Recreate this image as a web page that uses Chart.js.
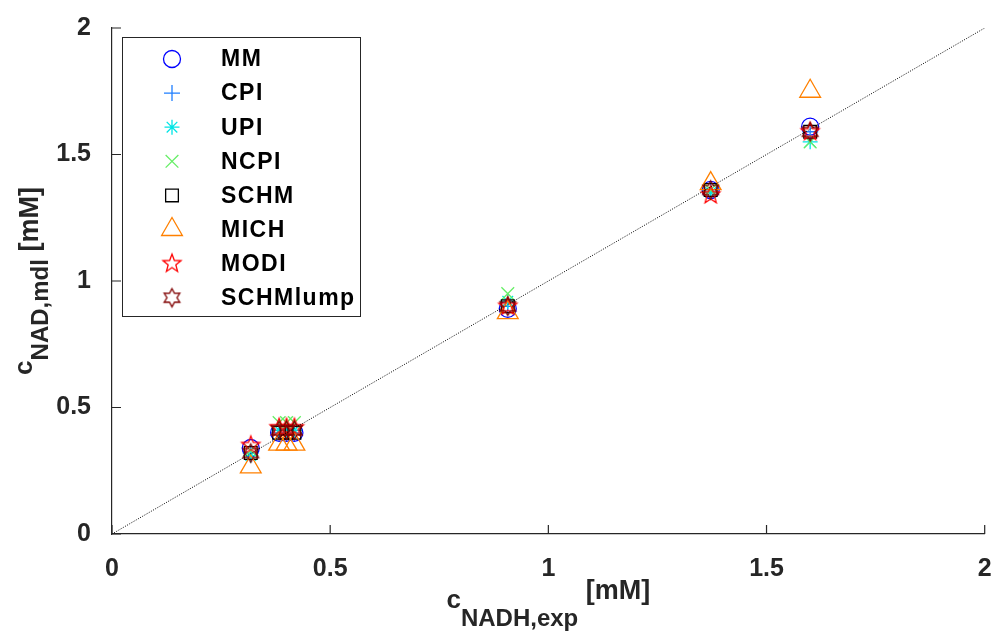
<!DOCTYPE html>
<html>
<head>
<meta charset="utf-8">
<script src="https://cdn.jsdelivr.net/npm/chart.js@4"></script>
<style>
  body { margin: 0; background: #fff; }
  #wrap { width: 998px; height: 631px; position: relative; }
</style>
</head>
<body>
<div id="wrap"><canvas id="chart"></canvas></div>
<script>
// experimental NADH concentrations (x) [mM]
const expNADH = [0.318, 0.383, 0.40, 0.418, 0.907, 1.372, 1.60];

// model predictions (y) [mM], one array per model
const yMM       = [0.34, 0.40, 0.40, 0.40, 0.89, 1.36, 1.61];
const yCPI      = [0.32, 0.40, 0.40, 0.40, 0.90, 1.36, 1.59];
const yUPI      = [0.31, 0.41, 0.41, 0.41, 0.92, 1.35, 1.55];
const yNCPI     = [0.33, 0.44, 0.44, 0.44, 0.95, 1.36, 1.55];
const ySCHM     = [0.32, 0.40, 0.40, 0.40, 0.90, 1.36, 1.59];
const yMICH     = [0.265, 0.355, 0.355, 0.355, 0.875, 1.385, 1.75];
const yMODI     = [0.35, 0.42, 0.42, 0.42, 0.90, 1.34, 1.59];
const ySCHMlump = [0.32, 0.41, 0.41, 0.41, 0.90, 1.36, 1.59];

// identity line
const lineX = [0, 2];
const lineY = [0, 2];

// axis ticks
const tickVals = [0, 0.5, 1, 1.5, 2];

const axisColor = '#262626';
const fontFam = '"Liberation Sans", Arial, Helvetica, sans-serif';

// custom star markers (pentagram / hexagram outlines)
function starImage(points, rOut, rIn, color, lw) {
  const size = Math.ceil(2 * rOut + lw * 2 + 2);
  const c = document.createElement('canvas');
  c.width = size; c.height = size;
  const ctx = c.getContext('2d');
  ctx.translate(size / 2, size / 2);
  ctx.beginPath();
  for (let i = 0; i < points * 2; i++) {
    const r = i % 2 ? rIn : rOut;
    const a = -Math.PI / 2 + i * Math.PI / points;
    if (i === 0) ctx.moveTo(r * Math.cos(a), r * Math.sin(a));
    else ctx.lineTo(r * Math.cos(a), r * Math.sin(a));
  }
  ctx.closePath();
  ctx.strokeStyle = color;
  ctx.lineWidth = lw;
  ctx.lineJoin = 'miter';
  ctx.stroke();
  return c;
}

const pentagram = starImage(5, 9.5, 4.0, '#ff0000', 1.3);
const hexagram = starImage(6, 9, 5.0, '#800000', 1.3);

const models = [
  { name: 'MM',       ys: yMM,       color: '#0000ff', style: 'circle',   r: 8.5 },
  { name: 'CPI',      ys: yCPI,      color: '#1f7fff', style: 'cross',    r: 8 },
  { name: 'UPI',      ys: yUPI,      color: '#00e5e5', style: 'star',     r: 7.5 },
  { name: 'NCPI',     ys: yNCPI,     color: '#66ee66', style: 'crossRot', r: 9 },
  { name: 'SCHM',     ys: ySCHM,     color: '#000000', style: 'rect',     r: 9 },
  { name: 'MICH',     ys: yMICH,     color: '#ff8000', style: 'triangle', r: 12 },
  { name: 'MODI',     ys: yMODI,     color: '#ff0000', style: pentagram,  r: 9 },
  { name: 'SCHMlump', ys: ySCHMlump, color: '#800000', style: hexagram,   r: 9 }
];

const datasets = models.map((m, i) => ({
  label: m.name,
  type: 'scatter',
  data: expNADH.map((x, k) => ({ x: x, y: m.ys[k] })),
  pointStyle: m.style,
  pointRadius: m.r,
  pointHoverRadius: m.r,
  pointBorderWidth: 1.3,
  borderColor: m.color,
  backgroundColor: 'rgba(0,0,0,0)',
  order: models.length - i  // later models drawn on top
}));

datasets.push({
  label: 'identity',
  type: 'line',
  data: lineX.map((x, k) => ({ x: x, y: lineY[k] })),
  borderColor: '#000',
  borderWidth: 1,
  borderDash: [1, 1.5],
  pointRadius: 0,
  fill: false,
  order: 0
});

// inward tick marks like matlab
const innerTicks = {
  id: 'innerTicks',
  afterDraw(chart) {
    const ctx = chart.ctx;
    const { x, y } = chart.scales;
    const a = chart.chartArea;
    ctx.save();
    ctx.strokeStyle = axisColor;
    ctx.lineWidth = 1.2;
    ctx.beginPath();
    tickVals.forEach(v => {
      const px = x.getPixelForValue(v);
      ctx.moveTo(px, a.bottom);
      ctx.lineTo(px, a.bottom - 9);
      const py = y.getPixelForValue(v);
      ctx.moveTo(a.left, py);
      ctx.lineTo(a.left + 9, py);
    });
    ctx.stroke();
    ctx.restore();
  }
};

// axis titles with subscripts
function drawSubTitle(ctx, parts, cx, cy, rot) {
  ctx.save();
  ctx.translate(cx, cy);
  ctx.rotate(rot);
  let total = 0;
  parts.forEach(p => {
    ctx.font = 'bold ' + p.size + 'px ' + fontFam;
    p.w = ctx.measureText(p.text).width;
    total += p.w;
  });
  let xx = -total / 2;
  ctx.fillStyle = axisColor;
  ctx.textBaseline = 'alphabetic';
  ctx.textAlign = 'left';
  parts.forEach(p => {
    ctx.font = 'bold ' + p.size + 'px ' + fontFam;
    ctx.fillText(p.text, xx, p.dy);
    xx += p.w;
  });
  ctx.restore();
}

const axisTitles = {
  id: 'axisTitles',
  afterDraw(chart) {
    const ctx = chart.ctx;
    const a = chart.chartArea;
    drawSubTitle(ctx, [
      { text: 'c', size: 26, dy: 9 },
      { text: 'NADH,exp', size: 24, dy: 27 },
      { text: ' [mM]', size: 27, dy: 0 }
    ], (a.left + a.right) / 2, 599, 0);
    drawSubTitle(ctx, [
      { text: 'c', size: 26, dy: -6 },
      { text: 'NAD,mdl', size: 24, dy: 10 },
      { text: ' [mM]', size: 27, dy: 0 }
    ], 38, (a.top + a.bottom) / 2, -Math.PI / 2);
  }
};

// boxed legend in the upper left
const boxLegend = {
  id: 'boxLegend',
  afterDraw(chart) {
    const ctx = chart.ctx;
    ctx.save();
    ctx.fillStyle = '#fff';
    ctx.fillRect(122.5, 37.5, 238, 279);
    ctx.strokeStyle = axisColor;
    ctx.lineWidth = 1;
    ctx.strokeRect(122.5, 37.5, 238, 279);
    models.forEach((m, i) => {
      const yy = 59 + i * 34.1;
      ctx.strokeStyle = m.color;
      ctx.fillStyle = 'rgba(0,0,0,0)';
      ctx.lineWidth = 1.3;
      Chart.helpers.drawPoint(ctx, { pointStyle: m.style, radius: m.r, borderWidth: 1.3, rotation: 0 }, 172, yy);
      ctx.fillStyle = '#000';
      ctx.font = 'bold 23px ' + fontFam;
      ctx.letterSpacing = '1.5px';
      ctx.textBaseline = 'middle';
      ctx.textAlign = 'left';
      ctx.fillText(m.name, 221, yy + 1);
      ctx.letterSpacing = '0px';
    });
    ctx.restore();
  }
};

new Chart(document.getElementById('chart').getContext('2d'), {
  data: { datasets: datasets },
  options: {
    responsive: true,
    maintainAspectRatio: false,
    animation: false,
    layout: { padding: { top: 26, right: 0, left: 0, bottom: 0 } },
    plugins: {
      legend: { display: false },
      tooltip: { enabled: false }
    },
    scales: {
      x: {
        type: 'linear',
        min: 0, max: 2,
        afterBuildTicks: s => { s.ticks = tickVals.map(v => ({ value: v })); },
        afterFit: s => { s.height = 97; s.paddingRight = 9; s.paddingLeft = 0; },
        ticks: {
          color: axisColor,
          padding: 12,
          maxRotation: 0,
          font: { family: fontFam, size: 25, weight: 'bold' },
          callback: v => String(v)
        },
        grid: { display: false },
        border: { display: true, color: axisColor, width: 1.2 }
      },
      y: {
        type: 'linear',
        min: 0, max: 2,
        afterBuildTicks: s => { s.ticks = tickVals.map(v => ({ value: v })); },
        afterFit: s => { s.width = 112; },
        ticks: {
          color: axisColor,
          padding: 13,
          font: { family: fontFam, size: 25, weight: 'bold' },
          callback: v => String(v)
        },
        grid: { display: false },
        border: { display: true, color: axisColor, width: 1.2 }
      }
    }
  },
  plugins: [innerTicks, axisTitles, boxLegend]
});
</script>
</body>
</html>
